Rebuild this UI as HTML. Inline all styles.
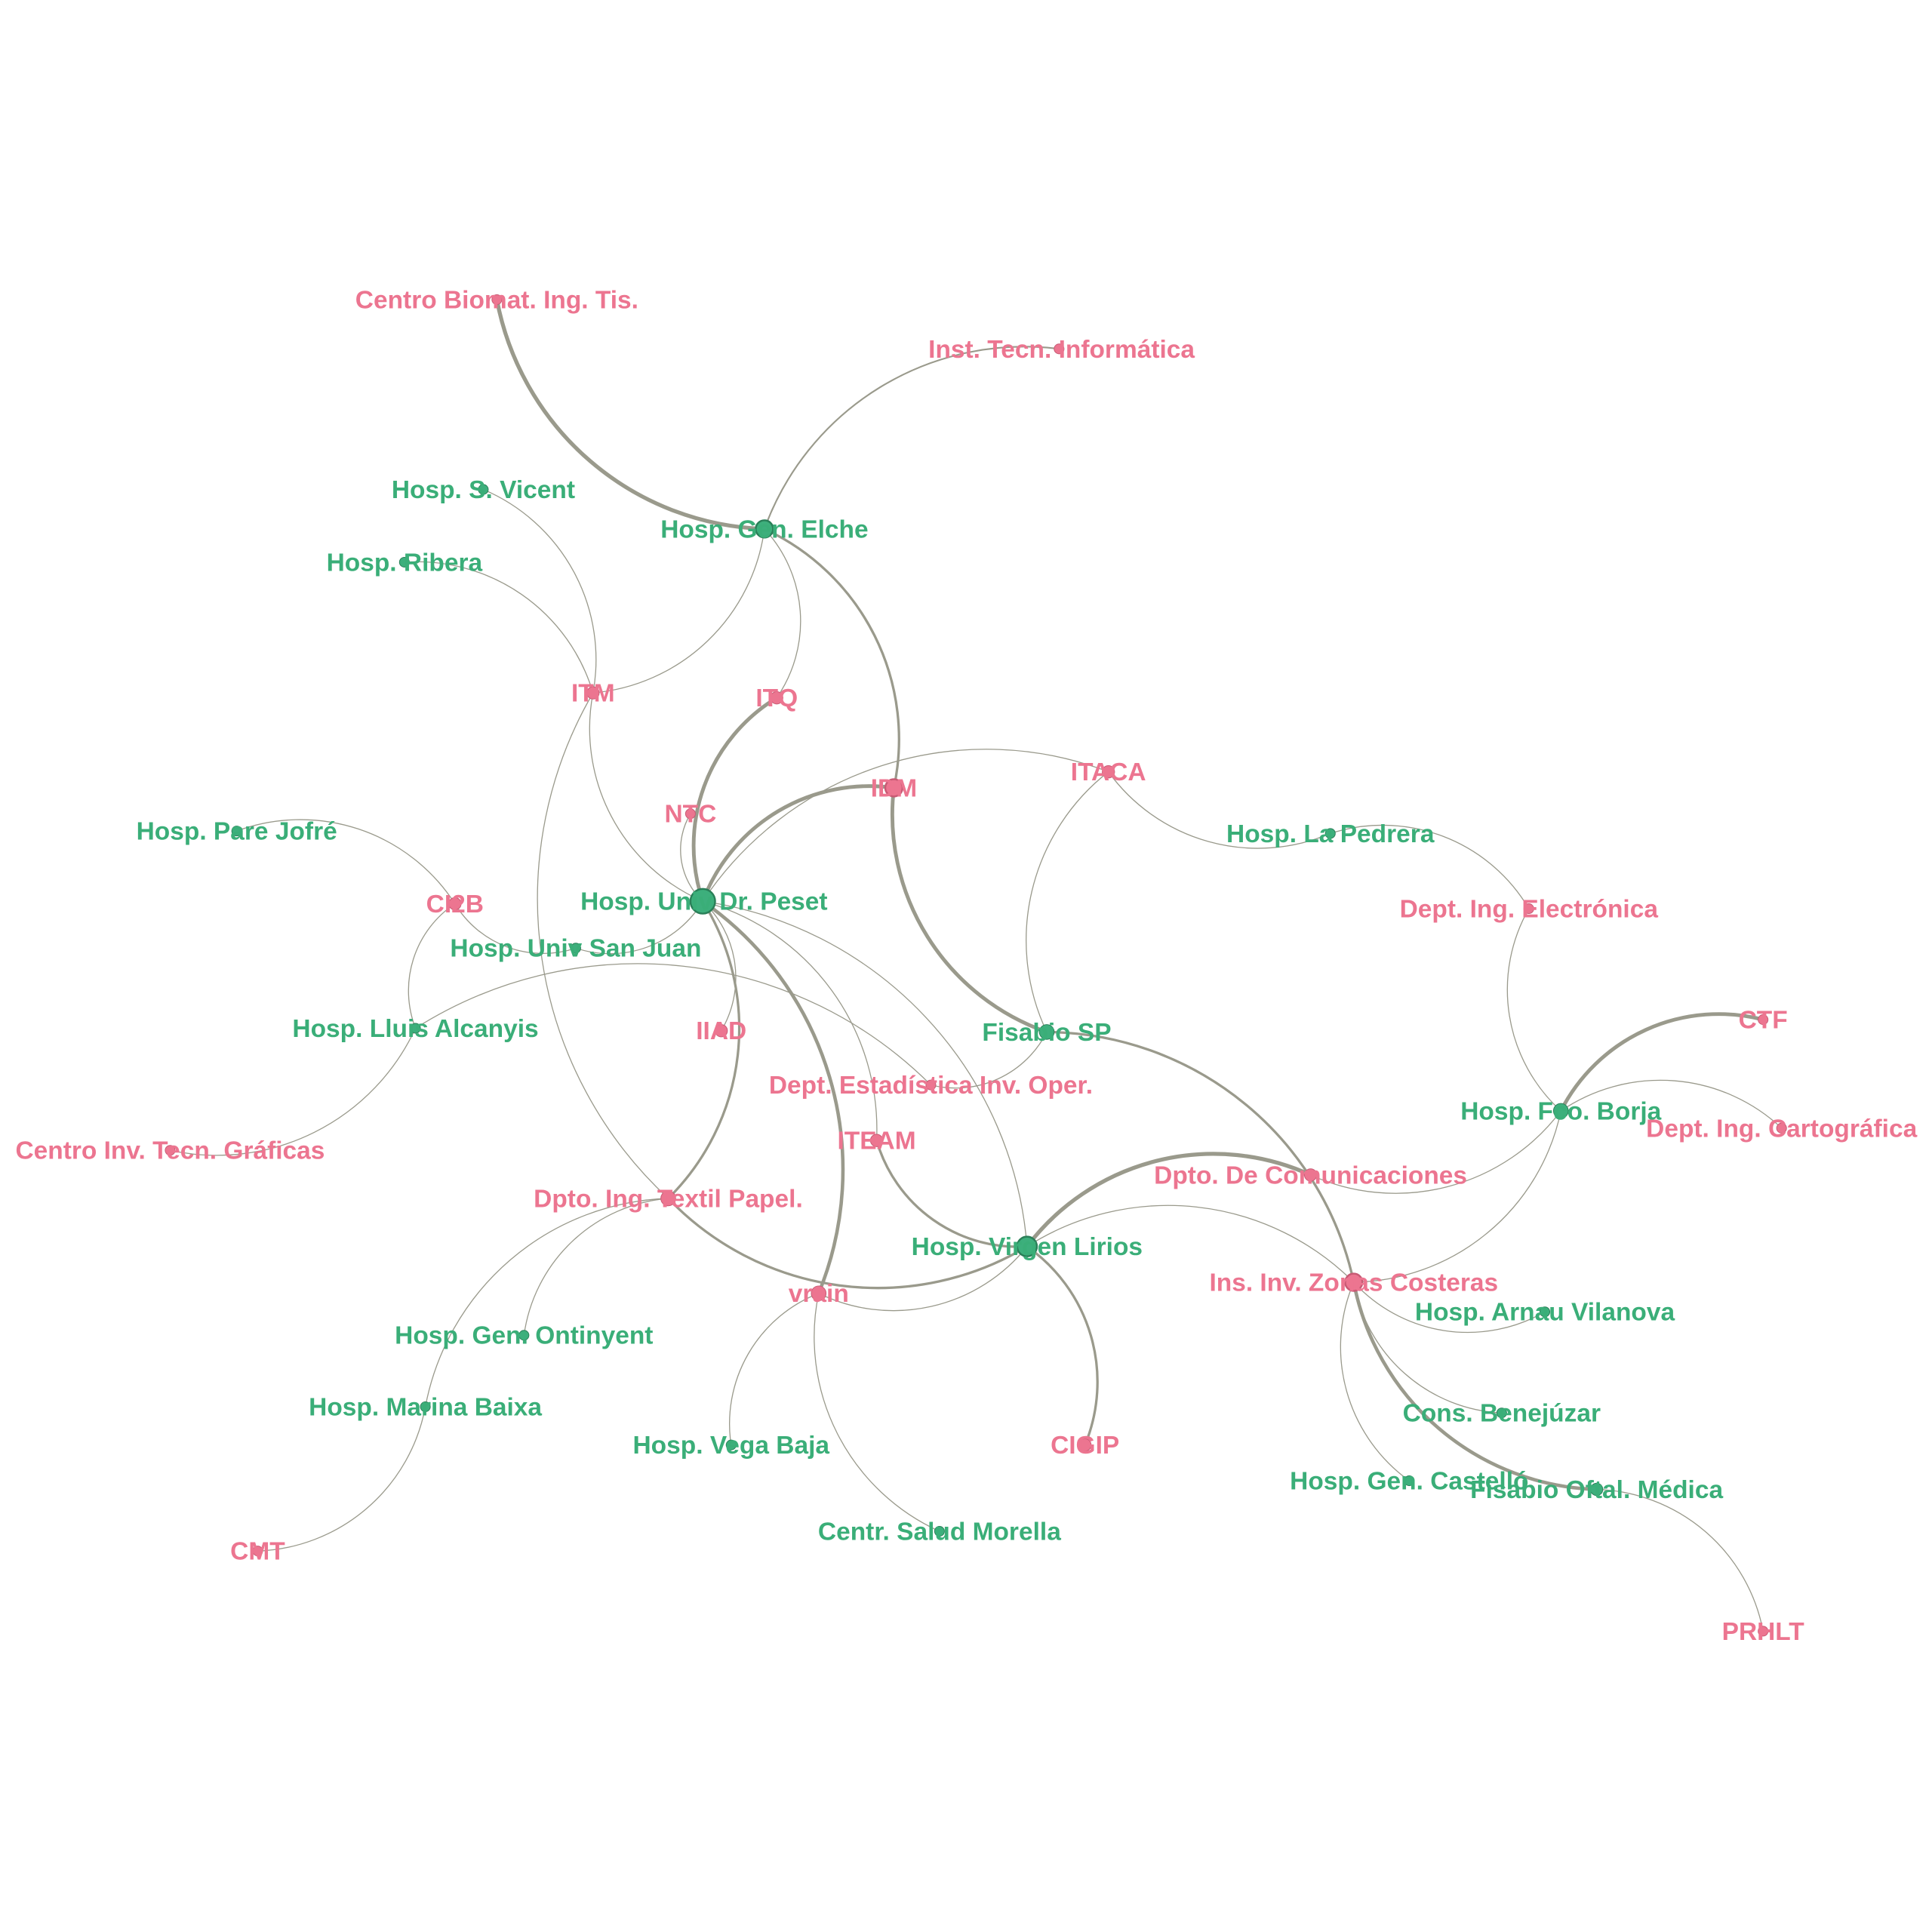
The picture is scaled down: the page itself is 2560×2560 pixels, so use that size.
<!DOCTYPE html>
<html><head><meta charset="utf-8"><style>
html,body{margin:0;padding:0;background:#fff;width:2560px;height:2560px;overflow:hidden}
svg{display:block}
text{font-family:"Liberation Sans",Arial,sans-serif;font-weight:bold;font-size:20.5px;text-anchor:middle}
.g{fill:#3aae78}.p{fill:#ec7590}
</style></head><body>
<svg id="s" width="2560" height="2560" viewBox="0 0 1567 1567" xmlns="http://www.w3.org/2000/svg">
<g id="edges" fill="none" stroke="#9a9a8c"></g>
<g id="nodes"></g>
<g id="labels">
<text class="p" x="403" y="250">Centro Biomat. Ing. Tis.</text>
<text class="p" x="861" y="290">Inst. Tecn. Informática</text>
<text class="g" x="392" y="404">Hosp. S. Vicent</text>
<text class="g" x="620" y="436">Hosp. Gen. Elche</text>
<text class="g" x="328" y="463">Hosp. Ribera</text>
<text class="p" x="481" y="569">ITM</text>
<text class="p" x="630" y="573">ITQ</text>
<text class="p" x="560" y="667">NTC</text>
<text class="p" x="725" y="646">IDM</text>
<text class="p" x="899" y="633">ITACA</text>
<text class="g" x="1079" y="683">Hosp. La Pedrera</text>
<text class="g" x="192" y="681">Hosp. Pare Jofré</text>
<text class="p" x="369" y="740">CI2B</text>
<text class="g" x="571" y="738">Hosp. Univ Dr. Peset</text>
<text class="g" x="467" y="776">Hosp. Univ San Juan</text>
<text class="p" x="1240" y="744">Dept. Ing. Electrónica</text>
<text class="g" x="337" y="841">Hosp. Lluis Alcanyis</text>
<text class="p" x="585" y="843">IIAD</text>
<text class="g" x="849" y="844">Fisabio SP</text>
<text class="p" x="1430" y="834">CTF</text>
<text class="p" x="755" y="887">Dept. Estadística Inv. Oper.</text>
<text class="g" x="1266" y="908">Hosp. Fco. Borja</text>
<text class="p" x="1445" y="922">Dept. Ing. Cartográfica</text>
<text class="p" x="138" y="940">Centro Inv. Tecn. Gráficas</text>
<text class="p" x="711" y="932">ITEAM</text>
<text class="p" x="1063" y="960">Dpto. De Comunicaciones</text>
<text class="p" x="542" y="979">Dpto. Ing. Textil Papel.</text>
<text class="g" x="833" y="1018">Hosp. Virgen Lirios</text>
<text class="p" x="1098" y="1047">Ins. Inv. Zonas Costeras</text>
<text class="p" x="664" y="1056">vrain</text>
<text class="g" x="425" y="1090">Hosp. Gen. Ontinyent</text>
<text class="g" x="1253" y="1071">Hosp. Arnau Vilanova</text>
<text class="g" x="345" y="1148">Hosp. Marina Baixa</text>
<text class="g" x="1218" y="1153">Cons. Benejúzar</text>
<text class="g" x="593" y="1179">Hosp. Vega Baja</text>
<text class="p" x="880" y="1179">CIGIP</text>
<text class="g" x="1143" y="1208">Hosp. Gen. Castelló</text>
<text class="g" x="1295" y="1215">Fisabio Oftal. Médica</text>
<text class="g" x="762" y="1249">Centr. Salud Morella</text>
<text class="p" x="209" y="1265">CMT</text>
<text class="p" x="1430" y="1330">PRHLT</text>
</g>
</svg>
<script>
var N={
Bio:[403,243,'p',4],Inst:[859,283,'p',4],SV:[392,397,'g',4],El:[620,429,'g',7],Rib:[328,456,'g',4],
ITM:[481,562,'p',5],ITQ:[630,566,'p',5],NTC:[560,660,'p',4],IDM:[725,639,'p',7],ITA:[899,626,'p',5],
LP:[1079,676,'g',4],PJ:[192,674,'g',4],CI2B:[369,733,'p',5],Pe:[570,731,'g',10],SJ:[467,769,'g',4],
DE:[1240,737,'p',4],LA:[337,834,'g',4],IIAD:[585,836,'p',5],FSP:[849,837,'g',6],CTF:[1430,827,'p',4],
Est:[755,880,'p',4],FB:[1266,901,'g',6],Car:[1445,915,'p',4],CIT:[138,933,'p',4],ITE:[711,925,'p',5],
Com:[1063,953,'p',5],Tex:[542,972,'p',6],VL:[833,1011,'g',8],ZC:[1098,1040,'p',7],vr:[664,1049,'p',6],
On:[425,1083,'g',4],AV:[1253,1064,'g',4],MB:[345,1141,'g',4],Be:[1218,1146,'g',4],VB:[593,1172,'g',4],
CIG:[880,1172,'p',5],Ca:[1143,1201,'g',4],FO:[1295,1208,'g',5],Mo:[762,1242,'g',4],CMT:[209,1258,'p',4],PR:[1430,1323,'p',4]};
var E=[
['Bio','El','R',3.2],['El','Inst','L',1.3],['El','ITM','L',0.8],['El','ITQ','L',0.8],['El','IDM','L',2],
['IDM','FSP','R',3],['SV','ITM','L',0.8],['Rib','ITM','L',0.8],['ITM','Pe','R',0.8],['ITM','Tex','R',0.8],
['Pe','ITQ','L',3],['Pe','IDM','L',3],['NTC','Pe','R',0.8],['Pe','ITA','L',0.8],['ITA','FSP','R',0.8],
['ITA','LP','R',0.8],['LP','DE','L',0.8],['DE','FB','R',0.8],['FB','CTF','L',3],['FB','Car','L',0.8],
['FB','Com','L',0.8],['FB','ZC','L',0.8],['PJ','CI2B','L',0.8],['CI2B','SJ','R',0.8],['SJ','Pe','R',0.8],
['CI2B','LA','R',0.8],['LA','CIT','L',0.8],['LA','Est','L',0.8],['Est','FSP','R',0.8],['Pe','IIAD','L',0.8],
['Pe','vr','L',2.8],['Pe','Tex','L',2],['Pe','ITE','L',0.8],['ITE','VL','R',2],['Pe','VL','L',0.8],
['Tex','VL','R',2],['VL','Com','L',3.2],['VL','CIG','L',2],['VL','ZC','L',0.8],['vr','VL','R',0.8],
['vr','VB','R',0.8],['vr','Mo','R',0.8],['FSP','ZC','L',2],['ZC','FO','R',2.8],['ZC','AV','R',0.8],
['ZC','Be','R',0.8],['ZC','Ca','R',0.8],['FO','PR','L',0.8],['Tex','On','R',0.8],['Tex','MB','R',0.8],['MB','CMT','L',0.8]];
var ns='http://www.w3.org/2000/svg',eg=document.getElementById('edges'),ng=document.getElementById('nodes');
E.forEach(function(e){var a=N[e[0]],b=N[e[1]];var L=Math.hypot(b[0]-a[0],b[1]-a[1]);var R=L*0.8;
var sw=e[2]=='L'?1:0;var p=document.createElementNS(ns,'path');
p.setAttribute('d','M'+a[0]+' '+a[1]+' A'+R+' '+R+' 0 0 '+sw+' '+b[0]+' '+b[1]);
p.setAttribute('stroke-width',e[3]);eg.appendChild(p);});
for(var k in N){var n=N[k];var c=document.createElementNS(ns,'circle');c.setAttribute('cx',n[0]);c.setAttribute('cy',n[1]);c.setAttribute('r',n[3]);
c.setAttribute('fill',n[2]=='g'?'#3daf7c':'#ec7590');c.setAttribute('stroke',n[2]=='g'?'#2a7f58':'#c85a74');c.setAttribute('stroke-width',n[3]>6?1.5:0.6);ng.appendChild(c);}
</script>
</body></html>
